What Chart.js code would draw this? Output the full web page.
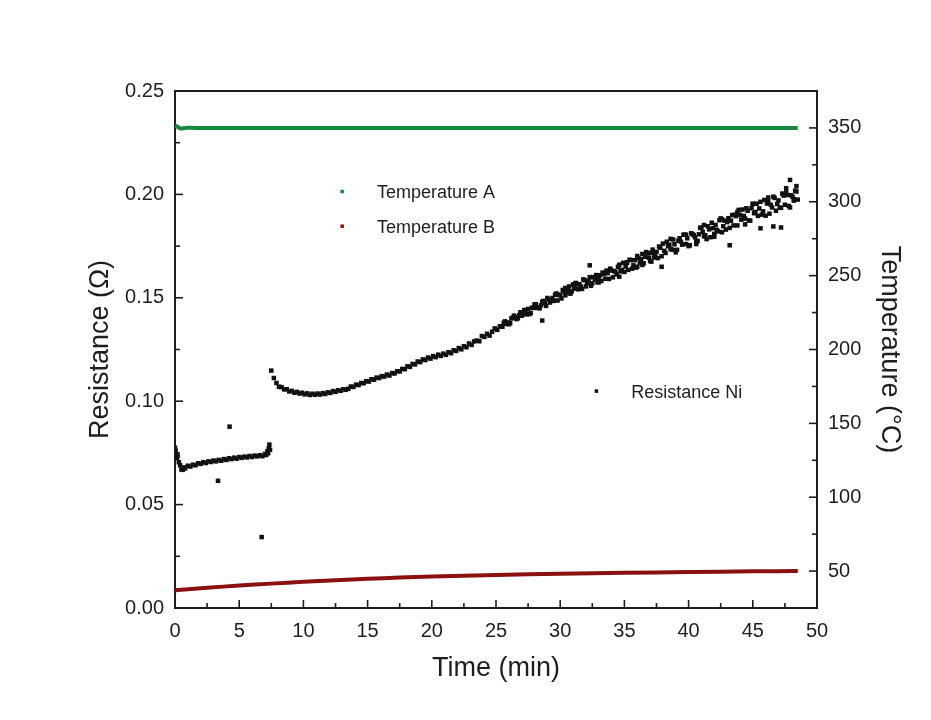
<!DOCTYPE html>
<html>
<head>
<meta charset="utf-8">
<script src="https://cdn.jsdelivr.net/npm/chart.js@4.4.1/dist/chart.umd.min.js"></script>
<style>
  body { margin: 0; background: #fff; }
  #wrap { width: 931px; height: 720px; }
</style>
</head>
<body>
<div id="wrap"><canvas id="chart"></canvas></div>
<script>
// resistance, first part (before the jump)
const timeA = [0, 0.05, 0.1, 0.15, 0.2, 0.3, 0.4, 0.5, 0.6, 0.7, 0.8, 1.0, 1.2, 1.4, 1.6, 1.8, 2.0, 2.2, 2.4, 2.6,
  2.8, 3.0, 3.2, 3.4, 3.6, 3.8, 4.0, 4.2, 4.4, 4.6, 4.8, 5.0, 5.2, 5.4, 5.6, 5.8, 6.0, 6.2, 6.4, 6.6,
  6.8, 7.0, 7.1, 7.2, 7.25, 7.3, 7.35, 7.4];
const resA = [0.0775, 0.0760, 0.0745, 0.0725, 0.0735, 0.0705, 0.0690, 0.0670, 0.0668, 0.0680, 0.0675, 0.0688, 0.0684, 0.0693, 0.0690, 0.0700, 0.0697, 0.0705, 0.0701, 0.0709,
  0.0706, 0.0713, 0.0709, 0.0716, 0.0712, 0.0720, 0.0716, 0.0724, 0.0720, 0.0727, 0.0722, 0.0730, 0.0726, 0.0732, 0.0728, 0.0735, 0.0730, 0.0737, 0.0733, 0.0739,
  0.0734, 0.0745, 0.0740, 0.0758, 0.0748, 0.0772, 0.0790, 0.0765];

// resistance, second part
const timeB = [7.5, 7.7, 7.9, 8.1, 8.3, 8.5, 8.7, 8.9, 9.1, 9.3,
  9.5, 9.7, 9.9, 10.1, 10.3, 10.5, 10.7, 10.9, 11.1, 11.3,
  11.5, 11.7, 11.9, 12.1, 12.3, 12.5, 12.7, 12.9, 13.1, 13.3,
  13.5, 13.7, 13.9, 14.1, 14.3, 14.5, 14.7, 14.9, 15.1, 15.3,
  15.5, 15.7, 15.9, 16.1, 16.3, 16.5, 16.7, 16.9, 17.1, 17.3,
  17.5, 17.7, 17.9, 18.1, 18.3, 18.5, 18.7, 18.9, 19.1, 19.3,
  19.5, 19.7, 19.9, 20.1, 20.3, 20.5, 20.7, 20.9, 21.1, 21.3,
  21.5, 21.7, 21.9, 22.1, 22.3, 22.5, 22.7, 22.9, 23.1, 23.3,
  23.5, 23.7, 23.9, 24.1, 24.3, 24.5, 24.7, 24.9, 25.1, 25.3,
  25.5, 25.7, 25.9, 26.1, 26.3, 26.5, 26.7, 26.9, 27.1, 27.3,
  27.5, 27.7, 27.9, 28.1, 28.3, 28.5, 28.7, 28.9, 29.1, 29.3,
  29.5, 29.7, 29.9, 30.1, 30.3, 30.5, 30.7, 30.9, 31.1, 31.3,
  31.5, 31.7, 31.9, 32.1, 32.3, 32.5, 32.7, 32.9, 33.1, 33.3,
  33.5, 33.7, 33.9, 34.1, 34.3, 34.5, 34.7, 34.9, 35.1, 35.3,
  35.5, 35.7, 35.9, 36.1, 36.3, 36.5, 36.7, 36.9, 37.1, 37.3,
  37.5, 37.7, 37.9, 38.1, 38.3, 38.5, 38.7, 38.9, 39.1, 39.3,
  39.5, 39.7, 39.9, 40.1, 40.3, 40.5, 40.7, 40.9, 41.1, 41.3,
  41.5, 41.7, 41.9, 42.1, 42.3, 42.5, 42.7, 42.9, 43.1, 43.3,
  43.5, 43.7, 43.9, 44.1, 44.3, 44.5, 44.7, 44.9, 45.1, 45.3,
  45.5, 45.7, 45.9, 46.1, 46.3, 46.5, 46.7, 46.9, 47.1, 47.3,
  47.5, 47.7, 47.9, 48.1, 48.3, 48.5];
const resB = [0.1148, 0.1112, 0.1088, 0.1070, 0.1068, 0.1057, 0.1058, 0.1047, 0.1050, 0.1041,
  0.1045, 0.1037, 0.1041, 0.1033, 0.1038, 0.1030, 0.1036, 0.1031, 0.1037, 0.1032,
  0.1039, 0.1035, 0.1043, 0.1040, 0.1049, 0.1045, 0.1053, 0.1050, 0.1058, 0.1055,
  0.1060, 0.1071, 0.1069, 0.1080, 0.1078, 0.1088, 0.1087, 0.1097, 0.1095, 0.1106,
  0.1104, 0.1114, 0.1112, 0.1121, 0.1119, 0.1129, 0.1124, 0.1136, 0.1134, 0.1145,
  0.1144, 0.1156, 0.1155, 0.1169, 0.1166, 0.1180, 0.1178, 0.1192, 0.1189, 0.1202,
  0.1199, 0.1211, 0.1206, 0.1218, 0.1213, 0.1225, 0.1219, 0.1230, 0.1224, 0.1237,
  0.1232, 0.1246, 0.1243, 0.1257, 0.1251, 0.1266, 0.1261, 0.1279, 0.1272, 0.1289,
  0.1293, 0.1290, 0.1315, 0.1311, 0.1326, 0.1317, 0.1336, 0.1352, 0.1345, 0.1362,
  0.1360, 0.1386, 0.1381, 0.1377, 0.1404, 0.1406, 0.1401, 0.1430, 0.1420, 0.1434,
  0.1446, 0.1426, 0.1451, 0.1469, 0.1452, 0.1464, 0.1485, 0.1461, 0.1491, 0.1487,
  0.1485, 0.1521, 0.1513, 0.1497, 0.1531, 0.1523, 0.1555, 0.1531, 0.1548, 0.1567,
  0.1566, 0.1543, 0.1585, 0.1570, 0.1600, 0.1570, 0.1590, 0.1575, 0.1609, 0.1622,
  0.1592, 0.1619, 0.1641, 0.1599, 0.1625, 0.1650, 0.1628, 0.1669, 0.1651, 0.1635,
  0.1682, 0.1657, 0.1646, 0.1691, 0.1686, 0.1667, 0.1721, 0.1694, 0.1718, 0.1695,
  0.1722, 0.1748, 0.1701, 0.1727, 0.1771, 0.1757, 0.1733, 0.1759, 0.1732, 0.1788,
  0.1757, 0.1805, 0.1788, 0.1754, 0.1808, 0.1792, 0.1775, 0.1838, 0.1819, 0.1803,
  0.1846, 0.1793, 0.1837, 0.1852, 0.1821, 0.1884, 0.1846, 0.1830, 0.1885, 0.1873,
  0.1850, 0.1895, 0.1925, 0.1878, 0.1896, 0.1933, 0.1874, 0.1933, 0.1909, 0.1955,
  0.1932, 0.1902, 0.1973, 0.1956, 0.1907, 0.1937, 0.1983, 0.1954, 0.1936, 0.2004,
  0.1950, 0.1997, 0.1937, 0.1988, 0.2018, 0.1975];

// in-between samples of the noisy part
const timeC = [25.6, 25.8, 26.0, 26.2, 26.4, 26.6, 26.8, 27.0, 27.2, 27.4,
  27.6, 27.8, 28.0, 28.2, 28.4, 28.6, 28.8, 29.0, 29.2, 29.4,
  29.6, 29.8, 30.0, 30.2, 30.4, 30.6, 30.8, 31.0, 31.2, 31.4,
  31.6, 31.8, 32.0, 32.2, 32.4, 32.6, 32.8, 33.0, 33.2, 33.4,
  33.6, 33.8, 34.0, 34.2, 34.4, 34.6, 34.8, 35.0, 35.2, 35.4,
  35.6, 35.8, 36.0, 36.2, 36.4, 36.6, 36.8, 37.0, 37.2, 37.4,
  37.6, 37.8, 38.0, 38.2, 38.4, 38.6, 38.8, 39.0, 39.2, 39.4,
  39.6, 39.8, 40.0, 40.2, 40.4, 40.6, 40.8, 41.0, 41.2, 41.4,
  41.6, 41.8, 42.0, 42.2, 42.4, 42.6, 42.8, 43.0, 43.2, 43.4,
  43.6, 43.8, 44.0, 44.2, 44.4, 44.6, 44.8, 45.0, 45.2, 45.4,
  45.6, 45.8, 46.0, 46.2, 46.4, 46.6, 46.8, 47.0, 47.2, 47.4,
  47.6, 47.8, 48.0, 48.2, 48.4];
const resC = [0.1379, 0.1374, 0.1372, 0.1400, 0.1414, 0.1397, 0.1416, 0.1413, 0.1441, 0.1420,
  0.1421, 0.1452, 0.1468, 0.1451, 0.1449, 0.1481, 0.1474, 0.1499, 0.1477, 0.1499,
  0.1515, 0.1487, 0.1515, 0.1538, 0.1512, 0.1539, 0.1520, 0.1565, 0.1544, 0.1541,
  0.1554, 0.1589, 0.1555, 0.1581, 0.1558, 0.1600, 0.1610, 0.1593, 0.1581, 0.1615,
  0.1631, 0.1591, 0.1632, 0.1629, 0.1613, 0.1660, 0.1635, 0.1625, 0.1669, 0.1684,
  0.1641, 0.1682, 0.1702, 0.1669, 0.1659, 0.1698, 0.1715, 0.1678, 0.1733, 0.1711,
  0.1692, 0.1742, 0.1762, 0.1717, 0.1749, 0.1736, 0.1782, 0.1730, 0.1776, 0.1771,
  0.1805, 0.1760, 0.1750, 0.1812, 0.1803, 0.1771, 0.1807, 0.1840, 0.1797, 0.1784,
  0.1831, 0.1863, 0.1809, 0.1828, 0.1875, 0.1817, 0.1873, 0.1866, 0.1838, 0.1900,
  0.1902, 0.1850, 0.1901, 0.1927, 0.1883, 0.1921, 0.1873, 0.1953, 0.1915, 0.1896,
  0.1964, 0.1918, 0.1897, 0.1966, 0.1950, 0.1989, 0.1921, 0.1971, 0.1935, 0.1994,
  0.2010, 0.1944, 0.1996, 0.1976, 0.2014];

// stray points
const timeStray = [3.35, 4.25, 6.75, 28.6, 30.4, 31.2, 32.3, 33.0, 33.8, 34.6, 35.2, 36.0, 36.4, 37.1, 37.9, 38.6, 39.0, 39.8,
  40.6, 41.2, 42.0, 42.6, 43.2, 43.8, 44.4, 45.0, 45.6, 46.2, 46.6, 47.2, 47.6, 47.9, 48.2, 48.4];
const resStray = [0.0615, 0.0877, 0.0343, 0.1390, 0.1548, 0.1572, 0.1657, 0.1575, 0.1632, 0.1602, 0.1672, 0.1650, 0.1712, 0.1675, 0.1650, 0.1785, 0.1720, 0.1805,
  0.1760, 0.1852, 0.1795, 0.1880, 0.1754, 0.1915, 0.1855, 0.1955, 0.1836, 0.1985, 0.1845, 0.1840, 0.2030, 0.2070, 0.1970, 0.2040];

// temperatures
const tempTime = [0, 0.2, 0.4, 0.7, 1.0, 1.5, 2.5, 5, 7.5, 10, 12.5, 15, 17.5, 20, 25, 30, 35, 40, 45, 48.5];
const tempA = [351.5, 350.8, 349.6, 349.8, 350.1, 350, 350, 350, 350, 350, 350, 350, 350, 350, 350, 350, 350, 350, 350, 350];
const tempB = [37.0, 37.2, 37.3, 37.5, 37.7, 38.0, 38.7, 40.2, 41.5, 42.7, 43.8, 44.8, 45.6, 46.3, 47.4, 48.2, 48.8, 49.3, 49.8, 50.1];

const pts = (xs, ys) => xs.map((x, i) => ({x: x, y: ys[i]}));

const font = '"Liberation Sans", Arial, sans-serif';
const ink = '#1e1e1e';

const frame = {
  id: 'frame',
  afterDraw(chart) {
    const {ctx, chartArea: a, scales} = chart;
    const tick = (x1, y1, x2, y2) => { ctx.beginPath(); ctx.moveTo(x1, y1); ctx.lineTo(x2, y2); ctx.stroke(); };
    ctx.save();
    ctx.strokeStyle = ink;
    ctx.lineWidth = 2;
    tick(a.left - 1, a.top, a.right + 1, a.top);
    ctx.lineWidth = 1.6;
    for (let i = 1; i < 20; i++) {
      const px = scales.x.getPixelForValue(i * 2.5);
      tick(px, a.bottom, px, a.bottom - (i % 2 === 0 ? 8 : 5));
    }
    for (let i = 1; i < 10; i++) {
      const py = scales.y.getPixelForValue(i * 0.025);
      tick(a.left, py, a.left + (i % 2 === 0 ? 8 : 5), py);
    }
    for (let i = 1; i < 14; i++) {
      const py = scales.y2.getPixelForValue(25 + i * 25);
      tick(a.right, py, a.right - (i % 2 === 1 ? 8 : 5), py);
    }
    // legend notes
    ctx.font = '18px ' + font;
    ctx.textBaseline = 'middle';
    const notes = [
      {label: 'Temperature A', color: '#16893c', x: 0.260, y: 0.194},
      {label: 'Temperature B', color: '#8b1010', x: 0.260, y: 0.261},
      {label: 'Resistance Ni', color: '#111', x: 0.656, y: 0.580}
    ];
    notes.forEach(n => {
      const x = a.left + n.x * (a.right - a.left);
      const y = a.top + n.y * (a.bottom - a.top);
      ctx.fillStyle = n.color;
      ctx.fillRect(x - 1.5, y - 1.5, 3.5, 3.5);
      ctx.fillStyle = ink;
      ctx.fillText(n.label, x + 35, y + 2);
    });
    ctx.restore();
  }
};

new Chart(document.getElementById('chart'), {
  type: 'scatter',
  data: {
    datasets: [
      {
        label: 'Temperature A',
        data: pts(tempTime, tempA),
        yAxisID: 'y2',
        showLine: true,
        borderColor: '#16893c',
        borderWidth: 4,
        pointRadius: 0,
        tension: 0.2
      },
      {
        label: 'Temperature B',
        data: pts(tempTime, tempB),
        yAxisID: 'y2',
        showLine: true,
        borderColor: '#8b1010',
        borderWidth: 4,
        pointRadius: 0,
        tension: 0.3
      },
      {
        label: 'Resistance Ni',
        data: pts(timeA, resA).concat(pts(timeB, resB), pts(timeC, resC), pts(timeStray, resStray)),
        yAxisID: 'y',
        pointStyle: 'rect',
        pointRadius: 3.2,
        borderWidth: 0,
        backgroundColor: '#111'
      }
    ]
  },
  options: {
    responsive: true,
    maintainAspectRatio: false,
    animation: false,
    layout: { padding: { top: 91, left: 0, right: 0, bottom: 0 } },
    plugins: { legend: { display: false }, tooltip: { enabled: false } },
    scales: {
      x: {
        type: 'linear', min: 0, max: 50,
        grid: { display: false, drawTicks: false },
        border: { display: true, color: ink, width: 2 },
        ticks: { stepSize: 5, padding: 11, color: ink, font: { family: font, size: 20 } },
        title: { display: true, text: 'Time (min)', color: ink, font: { family: font, size: 27 }, padding: { top: 0, bottom: 35 } },
        afterFit: s => { s.height = 112; }
      },
      y: {
        position: 'left', min: 0, max: 0.25,
        grid: { display: false, drawTicks: false },
        border: { display: true, color: ink, width: 2 },
        ticks: { stepSize: 0.05, padding: 11, color: ink, font: { family: font, size: 20 }, callback: v => v.toFixed(2) },
        title: { display: true, text: 'Resistance (Ω)', color: ink, font: { family: font, size: 27 }, padding: { top: 84, bottom: 0 } },
        afterFit: s => { s.width = 175; }
      },
      y2: {
        position: 'right', min: 25, max: 375,
        grid: { display: false, drawTicks: false },
        border: { display: true, color: ink, width: 2 },
        ticks: { padding: 11, color: ink, font: { family: font, size: 20 } },
        afterBuildTicks: s => { s.ticks = [50, 100, 150, 200, 250, 300, 350].map(v => ({value: v})); },
        title: { display: true, text: 'Temperature (°C)', color: ink, font: { family: font, size: 27 }, padding: { top: 25, bottom: 0 } },
        afterFit: s => { s.width = 114; }
      }
    }
  },
  plugins: [frame]
});
</script>
</body>
</html>
